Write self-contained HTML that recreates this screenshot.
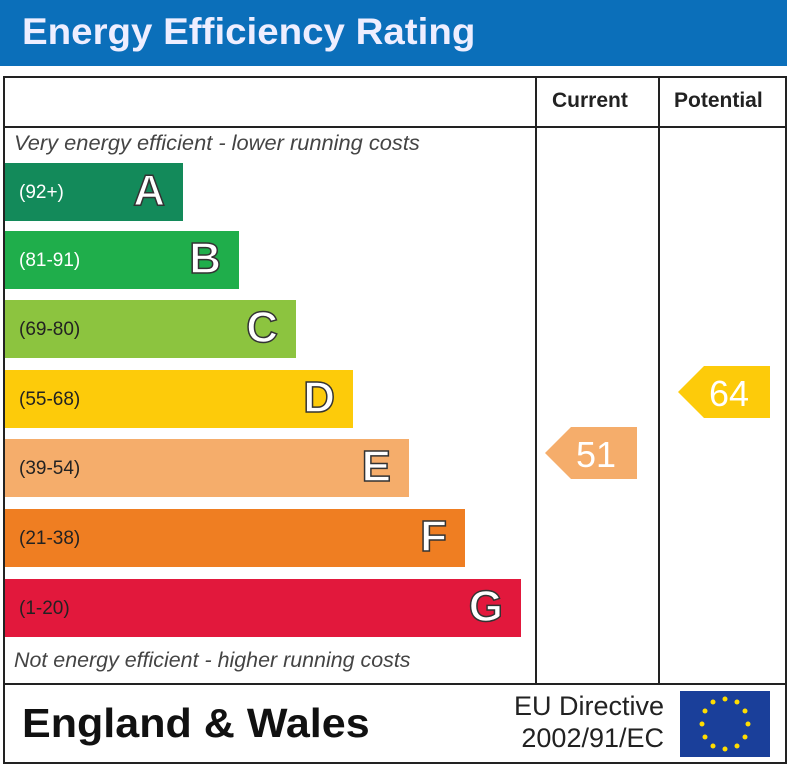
<!DOCTYPE html>
<html><head><style>
body{margin:0;width:800px;height:765px;background:#fff;position:relative;overflow:hidden;font-family:"Liberation Sans",sans-serif}
.a{position:absolute}
.bar{position:absolute;left:5px;height:58px}
.bar .r{position:absolute;left:14px;top:19px;font-size:19px;color:#222}
.bar .l{position:absolute;right:18px;top:3px;font-size:44px;font-weight:bold;color:#fff;-webkit-text-stroke:1.5px #333}
.it{position:absolute;left:14px;font-style:italic;font-size:21px;color:#444}
</style></head><body>
<div class="a" style="left:0;top:0;width:787px;height:66px;background:#0b6fba"></div>
<div class="a" style="left:22px;top:11px;font-size:37px;font-weight:bold;color:#eef;transform:scaleX(1.04);transform-origin:left">Energy Efficiency Rating</div>
<div class="a" style="left:3px;top:76px;width:780px;height:684px;border:2px solid #222"></div>
<div class="a" style="left:3px;top:126px;width:784px;height:2px;background:#222"></div>
<div class="a" style="left:3px;top:683px;width:784px;height:2px;background:#222"></div>
<div class="a" style="left:535px;top:76px;width:2px;height:608px;background:#222"></div>
<div class="a" style="left:658px;top:76px;width:2px;height:608px;background:#222"></div>
<div class="a" style="left:552px;top:89px;font-size:21px;font-weight:bold;color:#222">Current</div>
<div class="a" style="left:674px;top:89px;font-size:21px;font-weight:bold;color:#222">Potential</div>
<div class="it" style="top:132px;transform:scaleX(1.04);transform-origin:left">Very energy efficient - lower running costs</div>
<div class="it" style="top:649px;transform:scaleX(1.02);transform-origin:left">Not energy efficient - higher running costs</div>
<div class="bar" style="top:163px;width:178px;background:#138a5a"><span class="r" style="color:#fff">(92+)</span><span class="l">A</span></div>
<div class="bar" style="top:231px;width:234px;background:#1fae4b"><span class="r" style="color:#fff">(81-91)</span><span class="l">B</span></div>
<div class="bar" style="top:300px;width:291px;background:#8cc43f"><span class="r">(69-80)</span><span class="l">C</span></div>
<div class="bar" style="top:370px;width:348px;background:#fdcb0a"><span class="r">(55-68)</span><span class="l">D</span></div>
<div class="bar" style="top:439px;width:404px;background:#f5ad6b"><span class="r">(39-54)</span><span class="l">E</span></div>
<div class="bar" style="top:509px;width:460px;background:#ef7e22"><span class="r">(21-38)</span><span class="l">F</span></div>
<div class="bar" style="top:579px;width:516px;background:#e2183c"><span class="r">(1-20)</span><span class="l">G</span></div>
<svg class="a" style="left:0;top:0" width="800" height="765">
<polygon points="545,453 571,427 637,427 637,479 571,479" fill="#f5ad6b"/>
<polygon points="678,392 704,366 770,366 770,418 704,418" fill="#fdcb0a"/>
<text x="596" y="467" font-size="36" fill="#fff" text-anchor="middle" font-family="Liberation Sans">51</text>
<text x="729" y="406" font-size="36" fill="#fff" text-anchor="middle" font-family="Liberation Sans">64</text>
<rect x="680" y="691" width="90" height="66" fill="#1a3f9a"/>
<g fill="#ffdd00">
<circle cx="725" cy="699" r="2.5"/><circle cx="737" cy="702" r="2.5"/><circle cx="745" cy="711" r="2.5"/><circle cx="748" cy="724" r="2.5"/><circle cx="745" cy="737" r="2.5"/><circle cx="737" cy="746" r="2.5"/><circle cx="725" cy="749" r="2.5"/><circle cx="713" cy="746" r="2.5"/><circle cx="705" cy="737" r="2.5"/><circle cx="702" cy="724" r="2.5"/><circle cx="705" cy="711" r="2.5"/><circle cx="713" cy="702" r="2.5"/>
</g>
</svg>
<div class="a" style="left:22px;top:700px;font-size:41px;font-weight:bold;color:#111;transform:scaleX(1.05);transform-origin:left">England &amp; Wales</div>
<div class="a" style="left:510px;top:690px;font-size:27px;color:#222;line-height:32px;text-align:right;width:154px">EU Directive<br>2002/91/EC</div>
</body></html>
